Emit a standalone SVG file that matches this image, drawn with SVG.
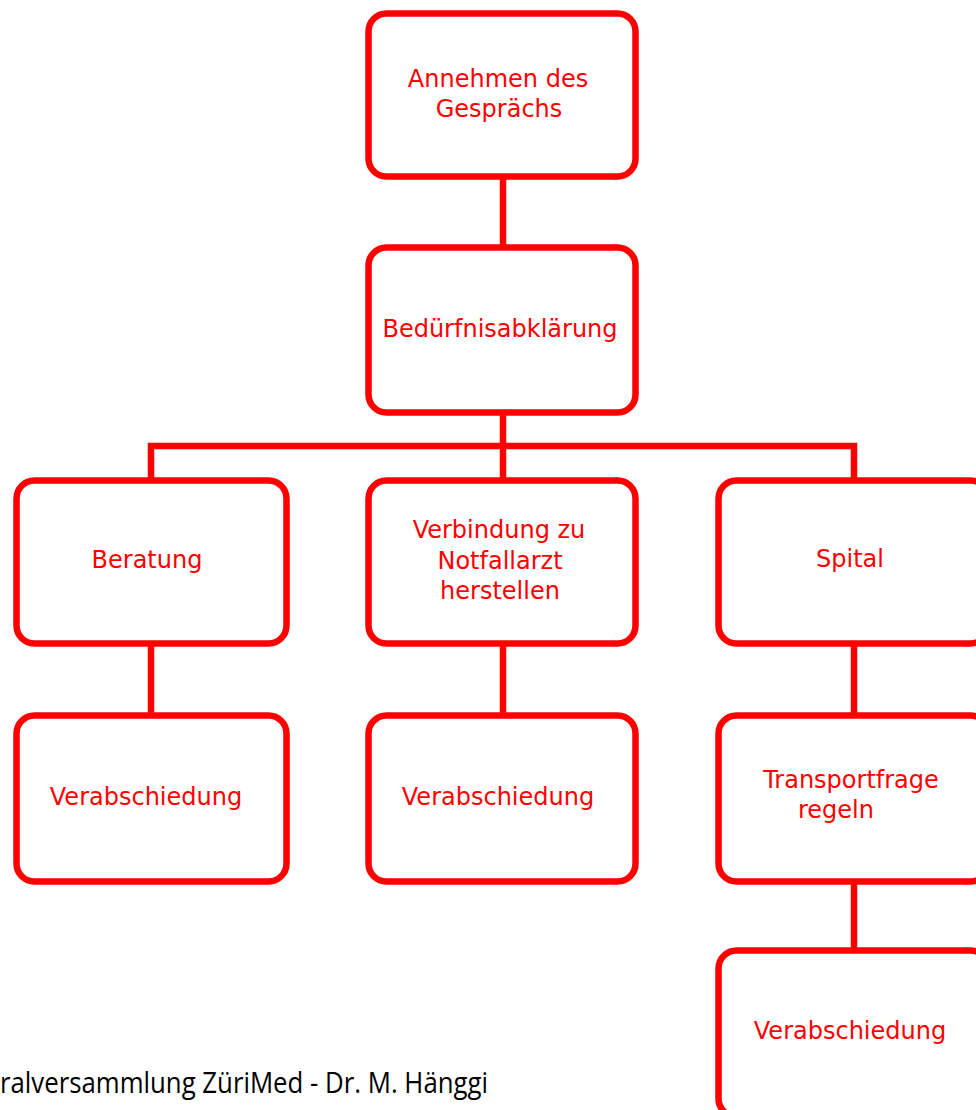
<svg xmlns="http://www.w3.org/2000/svg" width="976" height="1110" viewBox="0 0 976 1110">
<style>
.box{fill:#fff;stroke:#ff0000;stroke-width:6.5}
.lbl{font-family:"DejaVu Sans",sans-serif;font-size:24px;fill:#ff0000;text-anchor:middle}
.con{fill:none;stroke:#ff0000;stroke-width:6.5}
.foot{font-family:"Open Sans","Liberation Sans",sans-serif;font-size:29px;fill:#000}
</style>
<rect width="976" height="1110" fill="#fff"/>
<g id="connectors">
<line class="con" x1="503" y1="176" x2="503" y2="248"/>
<line class="con" x1="503" y1="412" x2="503" y2="446"/>
<polyline class="con" points="151,481 151,446 854,446 854,481"/>
<line class="con" x1="503" y1="446" x2="503" y2="481"/>
<line class="con" x1="151" y1="643" x2="151" y2="716"/>
<line class="con" x1="503" y1="643" x2="503" y2="716"/>
<line class="con" x1="854" y1="643" x2="854" y2="716"/>
<line class="con" x1="854" y1="881" x2="854" y2="951"/>
</g>
<g id="n1">
<rect class="box" x="368.5" y="13.5" width="267" height="163" rx="18"/>
<text class="lbl" x="498" y="87">Annehmen des</text>
<text class="lbl" x="499" y="117">Gesprächs</text>
</g>
<g id="n2">
<rect class="box" x="368.5" y="247.5" width="267" height="165" rx="18"/>
<text class="lbl" x="500" y="337">Bedürfnisabklärung</text>
</g>
<g id="n3">
<rect class="box" x="16.5" y="480.5" width="270" height="163" rx="18"/>
<text class="lbl" x="147" y="568">Beratung</text>
</g>
<g id="n4">
<rect class="box" x="368.5" y="480.5" width="267" height="163" rx="18"/>
<text class="lbl" x="499" y="538">Verbindung zu</text>
<text class="lbl" x="500" y="569">Notfallarzt</text>
<text class="lbl" x="500" y="599">herstellen</text>
</g>
<g id="n5">
<rect class="box" x="718.5" y="480.5" width="270" height="163" rx="18"/>
<text class="lbl" x="850" y="567">Spital</text>
</g>
<g id="n6">
<rect class="box" x="16.5" y="715.5" width="270" height="166" rx="18"/>
<text class="lbl" x="146" y="805">Verabschiedung</text>
</g>
<g id="n7">
<rect class="box" x="368.5" y="715.5" width="267" height="166" rx="18"/>
<text class="lbl" x="498" y="805">Verabschiedung</text>
</g>
<g id="n8">
<rect class="box" x="718.5" y="715.5" width="270" height="166" rx="18"/>
<text class="lbl" x="851" y="788">Transportfrage</text>
<text class="lbl" x="836" y="818">regeln</text>
</g>
<g id="n9">
<rect class="box" x="718.5" y="950.5" width="270" height="166" rx="18"/>
<text class="lbl" x="850" y="1039">Verabschiedung</text>
</g>
<text class="foot" x="0" y="1093" textLength="488" lengthAdjust="spacingAndGlyphs">ralversammlung ZüriMed - Dr. M. Hänggi</text>
</svg>
